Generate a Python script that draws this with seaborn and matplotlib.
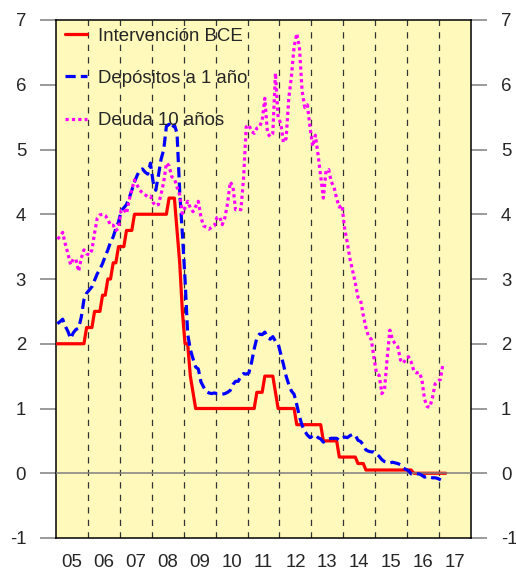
import numpy as np
import pandas as pd
import matplotlib
matplotlib.use("Agg")
import matplotlib.pyplot as plt
import seaborn as sns

# ---- data (monthly, Jan 2005 onwards) ----
bce = [2.0]*11 + [2.25] + \
      [2.25, 2.25, 2.5, 2.5, 2.5, 2.75, 2.75, 3.0, 3.0, 3.25, 3.25, 3.5] + \
      [3.5, 3.5, 3.75, 3.75, 3.75, 4.0, 4.0, 4.0, 4.0, 4.0, 4.0, 4.0] + \
      [4.0, 4.0, 4.0, 4.0, 4.0, 4.0, 4.25, 4.25, 4.25, 3.75, 3.25, 2.5] + \
      [2.0, 2.0, 1.5, 1.25, 1.0, 1.0, 1.0, 1.0, 1.0, 1.0, 1.0, 1.0] + \
      [1.0]*12 + \
      [1.0, 1.0, 1.0, 1.25, 1.25, 1.25, 1.5, 1.5, 1.5, 1.5, 1.25, 1.0] + \
      [1.0]*6 + [0.75]*6 + \
      [0.75]*4 + [0.5]*6 + [0.25, 0.25] + \
      [0.25]*5 + [0.15]*3 + [0.05]*4 + \
      [0.05]*12 + \
      [0.05, 0.05] + [0.0]*10 + \
      [0.0, 0.0, 0.0]

depositos = [2.31, 2.34, 2.38, 2.27, 2.19, 2.08, 2.17, 2.22, 2.24, 2.41, 2.68, 2.78,
             2.83, 2.88, 2.98, 3.08, 3.15, 3.24, 3.35, 3.45, 3.57, 3.65, 3.78, 3.88,
             4.05, 4.10, 4.15, 4.25, 4.37, 4.50, 4.60, 4.68, 4.70, 4.65, 4.62, 4.79,
             4.50, 4.37, 4.60, 4.85, 5.00, 5.36, 5.39, 5.32, 5.38, 5.25, 4.35, 3.70,
             3.00, 2.15, 1.91, 1.77, 1.64, 1.61, 1.41, 1.33, 1.26, 1.24, 1.23, 1.24,
             1.23, 1.23, 1.22, 1.23, 1.25, 1.28, 1.37, 1.42, 1.42, 1.50, 1.54, 1.53,
             1.55, 1.71, 1.92, 2.09, 2.15, 2.14, 2.18, 2.10, 2.07, 2.11, 2.04, 2.00,
             1.84, 1.68, 1.50, 1.37, 1.27, 1.22, 1.06, 0.88, 0.74, 0.65, 0.59, 0.55,
             0.58, 0.59, 0.55, 0.53, 0.48, 0.51, 0.53, 0.54, 0.54, 0.54, 0.51, 0.54,
             0.56, 0.55, 0.58, 0.60, 0.59, 0.51, 0.49, 0.44, 0.36, 0.34, 0.33, 0.33,
             0.30, 0.26, 0.21, 0.18, 0.17, 0.16, 0.17, 0.16, 0.15, 0.13, 0.08, 0.06,
             0.04, -0.01, -0.01, -0.01, -0.01, -0.03, -0.06, -0.05, -0.06, -0.07, -0.07, -0.08,
             -0.10, -0.12]

deuda = [3.62, 3.65, 3.72, 3.54, 3.39, 3.22, 3.31, 3.30, 3.12, 3.32, 3.45, 3.39,
         3.37, 3.45, 3.71, 3.94, 3.99, 4.00, 3.98, 3.92, 3.83, 3.83, 3.75, 3.78,
         4.06, 4.08, 4.01, 4.22, 4.38, 4.53, 4.45, 4.37, 4.33, 4.30, 4.27, 4.28,
         4.18, 4.13, 4.15, 4.31, 4.50, 4.79, 4.75, 4.58, 4.55, 4.42, 4.30, 4.01,
         4.10, 4.20, 4.10, 4.04, 4.12, 4.20, 3.95, 3.82, 3.80, 3.77, 3.80, 3.82,
         3.95, 3.96, 3.84, 3.95, 4.17, 4.50, 4.43, 4.07, 4.08, 4.07, 4.55, 5.35,
         5.38, 5.28, 5.25, 5.33, 5.35, 5.45, 5.79, 5.25, 5.20, 5.25, 6.18, 5.50,
         5.40, 5.11, 5.17, 5.79, 6.13, 6.59, 6.79, 6.58, 5.91, 5.65, 5.69, 5.34,
         5.05, 5.22, 4.92, 4.59, 4.25, 4.67, 4.69, 4.50, 4.42, 4.24, 4.11, 4.14,
         3.78, 3.56, 3.31, 3.13, 2.94, 2.72, 2.67, 2.44, 2.25, 2.11, 2.07, 1.79,
         1.54, 1.51, 1.23, 1.30, 1.78, 2.21, 2.06, 2.00, 1.95, 1.75, 1.70, 1.76,
         1.80, 1.72, 1.58, 1.55, 1.56, 1.46, 1.15, 1.03, 1.02, 1.16, 1.38, 1.42,
         1.45, 1.70]

year_labels = ["05", "06", "07", "08", "09", "10", "11", "12", "13", "14", "15", "16", "17"]
series_names = ["Intervención BCE", "Depósitos a 1 año", "Deuda 10 años"]

def month_positions(n):
    return 2005 + (np.arange(n) + 0.5) / 12.0

df_bce = pd.DataFrame({"fecha": month_positions(len(bce)), "valor": bce})
df_dep = pd.DataFrame({"fecha": month_positions(len(depositos)), "valor": depositos})
df_deu = pd.DataFrame({"fecha": month_positions(len(deuda)), "valor": deuda})

# ---- figure ----
sns.set_style("white")
plt.rcParams["font.family"] = ["Liberation Sans", "DejaVu Sans"]

fig = plt.figure(figsize=(5.16, 5.71), dpi=100)
ax = fig.add_axes([56/516, 33/571, 415/516, 518/571])
ax.set_facecolor("#FFFABB")

sns.lineplot(data=df_bce, x="fecha", y="valor", ax=ax, color="#FF0000", lw=2.3,
             label=series_names[0], zorder=4)
sns.lineplot(data=df_dep, x="fecha", y="valor", ax=ax, color="#0000FF", lw=2.3,
             linestyle=(0, (3.2, 1.6)), label=series_names[1], zorder=5)
sns.lineplot(data=df_deu, x="fecha", y="valor", ax=ax, color="#FF00FF", lw=2.3,
             linestyle=(0, (1, 1)), label=series_names[2], zorder=5)

ax.axhline(0, color="#7f7f7f", lw=1.1, zorder=4.5)

ax.set_xlim(2005, 2018)
ax.set_ylim(-1, 7)
ax.set_xlabel("")
ax.set_ylabel("")

# year boundaries (dashed)
ax.set_xticks(np.arange(2006, 2018), minor=True)
ax.grid(which="minor", axis="x", color="#333333", lw=0.9, linestyle=(0, (5, 5)), zorder=1)
ax.grid(which="major", visible=False)
ax.set_axisbelow(True)

ax.set_xticks(np.arange(2005, 2018) + 0.5)
ax.set_xticklabels(year_labels)
ax.set_yticks(range(-1, 8))
ax.set_yticklabels([str(v) for v in range(-1, 8)])

ax.tick_params(axis="x", which="both", length=0, pad=11.5, labelsize=13.4)
ax.tick_params(axis="y", which="major", left=True, right=True, labelleft=True,
               labelright=True, direction="out", length=11.5, width=1.1,
               color="#7f7f7f", pad=10, labelsize=13.4)

for s in ax.spines.values():
    s.set_color("black")
    s.set_linewidth(1.1)

leg = ax.legend(loc="upper left", bbox_to_anchor=(0.022, 0.985), frameon=False,
                fontsize=13.4, handlelength=1.15, handletextpad=0.6,
                labelspacing=1.35, borderpad=0, borderaxespad=0)

fig.savefig("out.png", dpi=100, facecolor="white")
